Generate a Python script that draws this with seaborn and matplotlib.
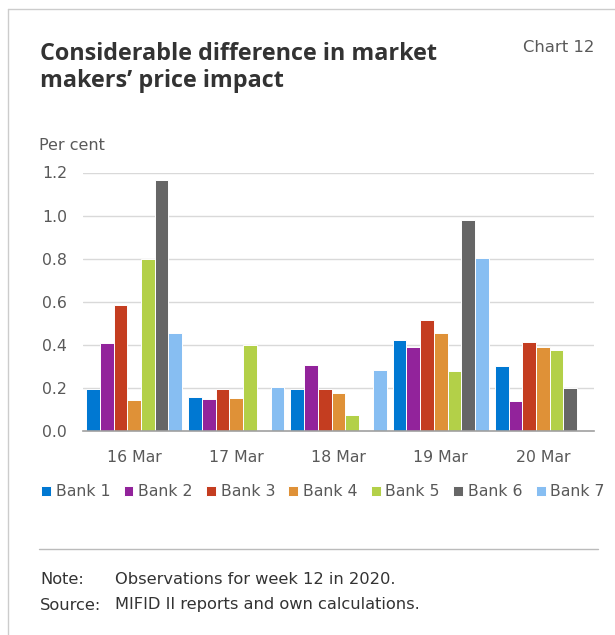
import numpy as np
import pandas as pd
import matplotlib
matplotlib.use('Agg')
import matplotlib.pyplot as plt
from matplotlib.lines import Line2D
import seaborn as sns

# Data (per cent)
days = ['16 Mar', '17 Mar', '18 Mar', '19 Mar', '20 Mar']
banks = ['Bank 1', 'Bank 2', 'Bank 3', 'Bank 4', 'Bank 5', 'Bank 6', 'Bank 7']
bank1 = [0.195, 0.157, 0.196, 0.423, 0.300]
bank2 = [0.409, 0.148, 0.306, 0.392, 0.141]
bank3 = [0.586, 0.193, 0.194, 0.513, 0.414]
bank4 = [0.145, 0.152, 0.177, 0.457, 0.390]
bank5 = [0.799, 0.401, 0.076, 0.278, 0.378]
bank6 = [1.163, np.nan, np.nan, 0.981, 0.199]
bank7 = [0.454, 0.204, 0.283, 0.802, np.nan]
colors = ['#0078D2', '#92239B', '#C43D20', '#DF9137', '#B3D048', '#666666', '#87BEF2']

series = [bank1, bank2, bank3, bank4, bank5, bank6, bank7]
df = pd.DataFrame({
    'day': np.tile(days, len(banks)),
    'bank': np.repeat(banks, len(days)),
    'value': np.concatenate(series),
}).dropna()

sns.set_theme(style='white')
plt.rcParams['font.family'] = ['DejaVu Sans']

text_col = '#595959'
fig = plt.figure(figsize=(6.15, 6.35), dpi=100)
ax = fig.add_axes([83 / 615, 1 - 431 / 635, (594 - 83) / 615, (431 - 172.5) / 635])

sns.barplot(data=df, x='day', y='value', hue='bank', order=days, hue_order=banks,
            palette=colors, saturation=1, width=0.94, edgecolor='white', linewidth=0.7,
            errorbar=None, ax=ax, legend=True, zorder=1)

yticks = np.arange(0, 1.21, 0.2)
ax.set_ylim(0, 1.2)
ax.set_xlim(-0.5, 4.5)
ax.set_yticks(yticks)
ax.set_yticklabels([f'{v:.1f}' for v in yticks])
for v in yticks[1:]:
    ax.axhline(v, color='#d9d9d9', linewidth=1.0, zorder=0.5)
for s in ['top', 'right', 'left']:
    ax.spines[s].set_visible(False)
ax.spines['bottom'].set_color('#a0a0a0')
ax.spines['bottom'].set_linewidth(1.2)
ax.set_xlabel('')
ax.set_ylabel('')
ax.tick_params(axis='y', length=0, pad=11.5, labelsize=11.3, labelcolor=text_col)
ax.tick_params(axis='x', which='major', length=3, width=1, color='#888888', direction='in',
               pad=14, labelsize=11.3, labelcolor=text_col)
ax.set_xticks(np.arange(-0.5, 5, 1), minor=True)
ax.tick_params(axis='x', which='minor', length=3, width=1, color='#888888', direction='in')

# legend below the plot
handles, labels = ax.get_legend_handles_labels()
ax.get_legend().remove()
leg = fig.legend(handles, labels, loc='center left', bbox_to_anchor=(41 / 615, 1 - 492 / 635),
                 ncol=7, frameon=False, fontsize=11.3, handlelength=0.63, handleheight=0.63,
                 handletextpad=0.3, columnspacing=0.85, borderaxespad=0, borderpad=0)
for t in leg.get_texts():
    t.set_color(text_col)

# titles and notes
fig.text(40 / 615, 1 - 60 / 635, 'Considerable difference in market', fontsize=16.8, fontweight='bold',
         family='Open Sans', color='#333333', va='baseline', ha='left')
fig.text(40 / 615, 1 - 87 / 635, 'makers\u2019 price impact', fontsize=16.8, fontweight='bold',
         family='Open Sans', color='#333333', va='baseline', ha='left')
fig.text(594 / 615, 1 - 48 / 635, 'Chart 12', fontsize=11.8, color=text_col, ha='right', va='center')
fig.text(39 / 615, 1 - 146 / 635, 'Per cent', fontsize=11.5, color=text_col, ha='left', va='center')
fig.text(40 / 615, 1 - 580 / 635, 'Note:', fontsize=11.7, color='#333333', va='center')
fig.text(115 / 615, 1 - 580 / 635, 'Observations for week 12 in 2020.', fontsize=11.7, color='#333333', va='center')
fig.text(40 / 615, 1 - 605 / 635, 'Source:', fontsize=11.7, color='#333333', va='center')
fig.text(115 / 615, 1 - 605 / 635, 'MIFID II reports and own calculations.', fontsize=11.7, color='#333333', va='center')

# frame lines and separator
fig.add_artist(Line2D([8 / 615, 8 / 615], [0, 1 - 9 / 635], transform=fig.transFigure, color='#cccccc', lw=1))
fig.add_artist(Line2D([8 / 615, 1], [1 - 9 / 635, 1 - 9 / 635], transform=fig.transFigure, color='#cccccc', lw=1))
fig.add_artist(Line2D([39 / 615, 598 / 615], [1 - 549 / 635, 1 - 549 / 635], transform=fig.transFigure,
                      color='#bbbbbb', lw=1))

fig.savefig('out.png', dpi=100)
